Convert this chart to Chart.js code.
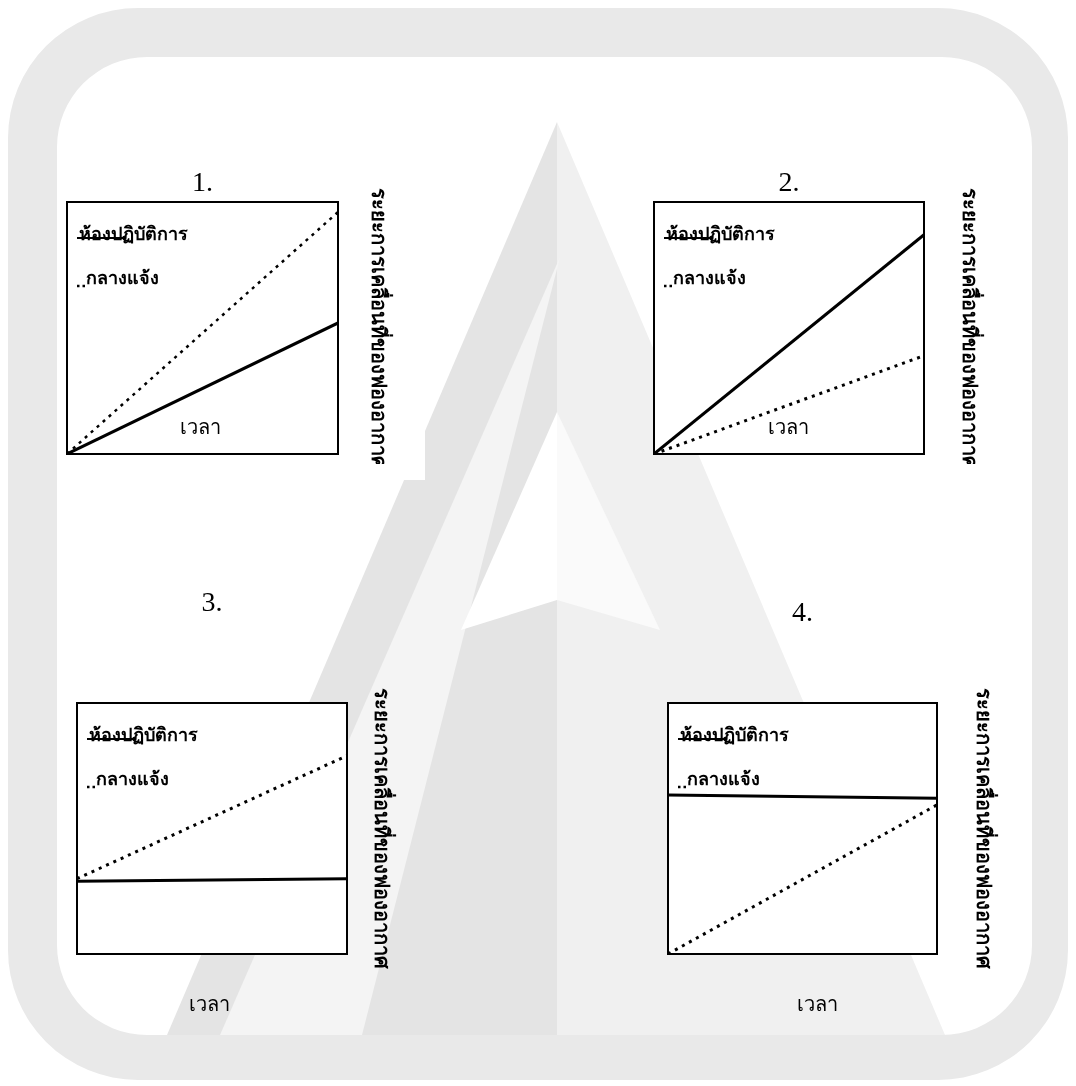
<!DOCTYPE html>
<html>
<head>
<meta charset="utf-8">
<script src="https://cdn.jsdelivr.net/npm/chart.js@4.4.0/dist/chart.umd.min.js"></script>
<style>
  html, body { margin: 0; padding: 0; background: #fff; }
  body { width: 1076px; height: 1086px; position: relative; overflow: hidden; }
  #mark { position: absolute; left: 0; top: 0; }
  .panel { position: absolute; }
  .panel canvas { display: block; }
</style>
</head>
<body>
<!-- faint watermark behind the figure -->
<svg id="mark" width="1076" height="1086">
  <polygon fill="#f0f0f0" points="557,122 945,1035 557,1035"/>
  <polygon fill="#e4e4e4" points="557,122 167,1035 557,1035"/>
  <polygon fill="#f4f4f4" points="560,257 220,1035 362,1035"/>
  <polygon fill="#ffffff" points="557,412 461,630 557,600"/>
  <polygon fill="#fafafa" points="557,412 660,630 557,600"/>
  <path fill="#e9e9e9" fill-rule="evenodd" d="M138 8 H938 A130 130 0 0 1 1068 138 V950 A130 130 0 0 1 938 1080 H138 A130 130 0 0 1 8 950 V138 A130 130 0 0 1 138 8 Z M147 57 H942 A90 90 0 0 1 1032 147 V945 A90 90 0 0 1 942 1035 H147 A90 90 0 0 1 57 945 V147 A90 90 0 0 1 147 57 Z"/>
</svg>

<div class="panel" style="left:57px;top:167px;width:368px;height:313px;background:#fff"><canvas id="c1"></canvas></div>
<div class="panel" style="left:644px;top:167px"><canvas id="c2"></canvas></div>
<div class="panel" style="left:67px;top:587px"><canvas id="c3"></canvas></div>
<div class="panel" style="left:658px;top:597px"><canvas id="c4"></canvas></div>

<script>
// data (0 = bottom of box, 1 = top)
const panelTitles = ['1.', '2.', '3.', '4.'];
const seriesLabels = ['ห้องปฏิบัติการ', 'กลางแจ้ง'];
const xTitle = 'เวลา';
const yTitle = 'ระยะการเคลื่อนที่ของฟองอากาศ';
const timeRange = [0, 1];
const labSeries = [[0, 0.52], [0, 0.87], [0.29, 0.30], [0.633, 0.621]];
const outdoorSeries = [[0, 0.96], [0, 0.39], [0.30, 0.79], [0, 0.594]];

// per panel sizing
const panels = [
  { w: 361, h: 297, titleGap: 1.4,  bottom: 10, yPad: 28, timeDx: -2, timeDy: -26, dotWidth: 2.5 },
  { w: 370, h: 297, titleGap: 1.4,  bottom: 10, yPad: 33, timeDx: -1, timeDy: -26, dotWidth: 3 },
  { w: 348, h: 437, titleGap: 82.4, bottom: 70, yPad: 22, timeDx: -3, timeDy: 51, dotWidth: 3 },
  { w: 371, h: 427, titleGap: 72.4, bottom: 70, yPad: 34, timeDx: 15, timeDy: 51, dotWidth: 3 }
];

const thaiFont = "'Noto Sans', 'DejaVu Sans', sans-serif";

// white plot box with black frame
const boxFrame = {
  id: 'boxFrame',
  beforeDatasetsDraw(chart) {
    const { ctx, chartArea: a } = chart;
    ctx.save();
    ctx.fillStyle = '#fff';
    ctx.fillRect(a.left, a.top, a.right - a.left, a.bottom - a.top);
    ctx.restore();
  },
  afterDatasetsDraw(chart) {
    const { ctx, chartArea: a } = chart;
    ctx.save();
    ctx.strokeStyle = '#000';
    ctx.lineWidth = 2;
    ctx.strokeRect(a.left, a.top, a.right - a.left, a.bottom - a.top);
    ctx.restore();
  }
};

// legend written inside the box, marker drawn over the start of the label
const insideLegend = {
  id: 'insideLegend',
  afterDraw(chart, args, opts) {
    const { ctx, chartArea: a } = chart;
    chart.data.datasets.forEach((ds, i) => {
      const x = a.left + opts.left;
      const y = a.top + opts.top + i * opts.gap;
      ctx.save();
      ctx.font = 'bold 18px ' + thaiFont;
      ctx.fillStyle = '#000';
      ctx.textBaseline = 'middle';
      ctx.strokeStyle = ds.borderColor;
      if (ds.borderDash) {
        ctx.lineWidth = 2.5;
        ctx.setLineDash([2.5, 3]);
        ctx.beginPath();
        ctx.moveTo(x, y + 7);
        ctx.lineTo(x + 8, y + 7);
        ctx.stroke();
        ctx.fillText(ds.label, x + 9, y);
      } else {
        ctx.fillText(ds.label, x + 2, y);
        ctx.lineWidth = 2;
        ctx.beginPath();
        ctx.moveTo(x, y + 3);
        ctx.lineTo(x + 49, y + 3);
        ctx.stroke();
      }
      ctx.restore();
    });
  }
};

// time label
const timeLabel = {
  id: 'timeLabel',
  afterDraw(chart, args, opts) {
    const { ctx, chartArea: a } = chart;
    ctx.save();
    ctx.font = '20px ' + thaiFont;
    ctx.fillStyle = '#000';
    ctx.textAlign = 'center';
    ctx.textBaseline = 'middle';
    ctx.fillText(opts.text, (a.left + a.right) / 2 + opts.dx, a.bottom + opts.dy);
    ctx.restore();
  }
};

const toPoints = (vals) => timeRange.map((t, i) => ({ x: t, y: vals[i] }));

panels.forEach((p, k) => {
  const canvas = document.getElementById('c' + (k + 1));
  canvas.width = p.w;
  canvas.height = p.h;
  new Chart(canvas, {
    type: 'line',
    data: {
      datasets: [
        { label: seriesLabels[0], data: toPoints(labSeries[k]), borderColor: '#000', borderWidth: 3, pointRadius: 0 },
        { label: seriesLabels[1], data: toPoints(outdoorSeries[k]), borderColor: '#000', borderWidth: p.dotWidth, borderDash: [3, 5], borderCapStyle: 'butt', pointRadius: 0 }
      ]
    },
    options: {
      responsive: false,
      animation: false,
      events: [],
      layout: { padding: { left: 10, top: 0, right: 0, bottom: p.bottom } },
      scales: {
        x: { type: 'linear', min: 0, max: 1, display: false },
        y: {
          type: 'linear', min: 0, max: 1, position: 'right',
          grid: { display: false, drawTicks: false },
          border: { display: false },
          ticks: { display: false },
          title: {
            display: true, text: yTitle, color: '#000',
            font: { family: thaiFont, size: 20, weight: 'bold' },
            padding: { top: p.yPad, bottom: p.yPad }
          }
        }
      },
      plugins: {
        legend: { display: false },
        tooltip: { enabled: false },
        title: {
          display: true, text: panelTitles[k], fullSize: false, color: '#000',
          font: { family: "'Liberation Serif', serif", size: 28, weight: 'normal' },
          padding: { top: 0, bottom: p.titleGap }
        },
        insideLegend: { left: 10, top: 33, gap: 44 },
        timeLabel: { text: xTitle, dx: p.timeDx, dy: p.timeDy }
      }
    },
    plugins: [boxFrame, insideLegend, timeLabel]
  });
});
</script>
</body>
</html>
